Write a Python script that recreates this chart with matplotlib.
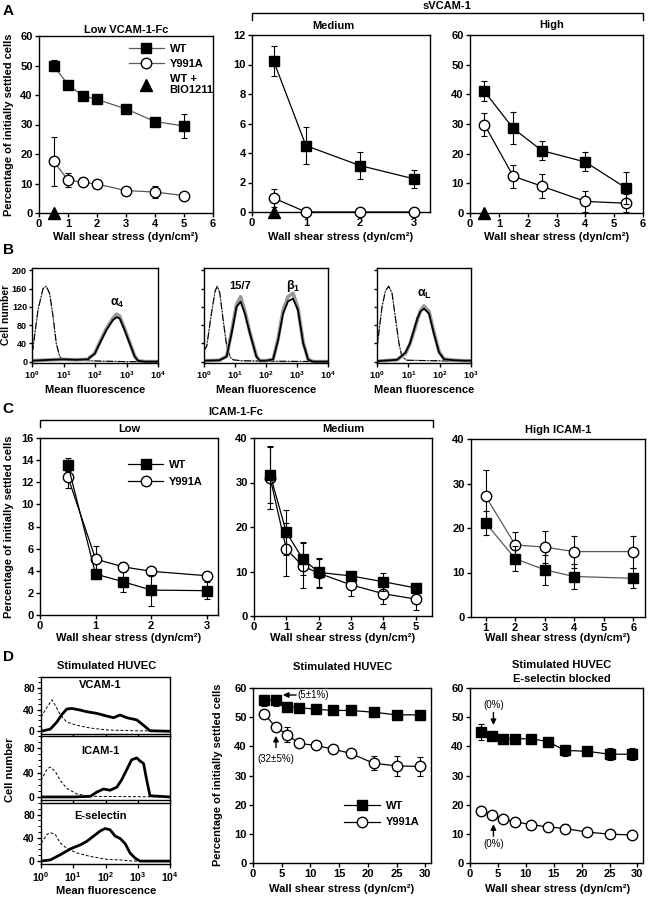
import numpy as np
import matplotlib
matplotlib.use("Agg")
import matplotlib.pyplot as plt
from matplotlib.lines import Line2D
from matplotlib.ticker import LogLocator, NullFormatter, MultipleLocator

W, H = 651, 900
plt.rcParams['font.family'] = ['Liberation Sans', 'DejaVu Sans']
plt.rcParams['font.weight'] = 'bold'
plt.rcParams['font.size'] = 8
plt.rcParams['axes.linewidth'] = 1.0
plt.rcParams['mathtext.fontset'] = 'custom'
plt.rcParams['mathtext.rm'] = 'Liberation Sans:bold'
plt.rcParams['mathtext.it'] = 'Liberation Sans:bold'

# ---- A: VCAM-1 ----
aL_x = [0.5, 1.0, 1.5, 2.0, 3.0, 4.0, 5.0]
aL_wt = [50.0, 43.5, 39.8, 38.5, 35.3, 31.0, 29.5]
aL_wt_err = [1.7, 0.8, 0.8, 0.8, 0.8, 0.8, 4.2]
aL_mut = [17.5, 11.2, 10.4, 9.8, 7.6, 7.1, 5.9]
aL_mut_err = [8.3, 2.4, 1.2, 0.8, 0.6, 2.0, 0.6]

aM_x = [0.4, 1, 2, 3]
aM_wt = [10.25, 4.5, 3.15, 2.25]
aM_wt_err = [1.0, 1.25, 0.9, 0.6]
aM_mut = [0.95, 0, 0, 0]
aM_mut_err = [0.6, 0, 0, 0]

aH_x = [0.5, 1.5, 2.5, 4.0, 5.4]
aH_wt = [41.0, 28.5, 21.0, 17.2, 8.5]
aH_wt_err = [3.4, 5.4, 3.2, 3.2, 5.3]
aH_mut = [29.8, 12.4, 9.0, 3.9, 3.3]
aH_mut_err = [4.0, 3.9, 4.1, 3.4, 3.0]

bio_x = [0.5, 0.4, 0.5]   # WT + BIO1211 point, one per A panel
bio_y = [0, 0, 0]

# ---- B: flow cytometry (log10 fluorescence, counts) ----
b1_ctrl_lx = [0.0, 0.03, 0.19, 0.35, 0.455, 0.56, 0.67, 0.77, 0.88, 0.98, 1.2, 1.5, 1.8, 2.2, 3.0, 4.0]
b1_ctrl = [20, 29, 113, 160, 165, 149, 98, 40, 11, 5, 4, 4, 2, 1, 0, 0]
b1_lx = [0.0, 0.3, 0.6, 1.0, 1.4, 1.78, 1.83, 1.99, 2.15, 2.36, 2.57, 2.68, 2.78, 2.94, 3.10, 3.26, 3.37, 3.6, 4.0]
b1_wt = [2, 3, 4, 5, 4, 5, 9, 17, 40, 69, 91, 97, 95, 69, 40, 11, 1.5, 0, 0]
b1_mut = [2, 3, 4, 5, 4, 5, 9, 18, 42, 72, 95, 104, 100, 72, 42, 12, 2, 0, 0]

b2_ctrl_lx = [0.0, 0.086, 0.25, 0.36, 0.43, 0.51, 0.62, 0.73, 0.84, 0.94, 1.2, 2.0, 4.0]
b2_ctrl = [25, 33, 110, 155, 165, 150, 90, 35, 10, 4, 2, 1, 0]
b2_lx = [0.0, 0.5, 0.73, 0.89, 1.05, 1.18, 1.32, 1.48, 1.69, 1.80, 2.0, 2.23, 2.39, 2.55, 2.71, 2.87, 3.03, 3.20, 3.36, 3.52, 4.0]
b2_wt = [2, 3, 11, 62, 120, 131, 105, 62, 11, 2, 2, 5, 47, 105, 132, 138, 113, 40, 4, 0, 0]
b2_mut = [2, 3, 12, 65, 125, 142, 110, 64, 12, 2, 2, 5, 50, 112, 142, 150, 118, 42, 5, 0, 0]

b3_ctrl_lx = [0.0, 0.03, 0.16, 0.27, 0.375, 0.48, 0.59, 0.70, 0.80, 0.96, 1.82, 2.9, 3.0]
b3_ctrl = [30, 47, 120, 155, 165, 150, 95, 40, 10, 3, 2, 1, 1]
b3_lx = [0.0, 0.21, 0.64, 0.91, 1.05, 1.18, 1.29, 1.39, 1.5, 1.66, 1.82, 1.98, 2.14, 2.46, 2.79, 3.0]
b3_wt = [1, 2, 4, 20, 40, 70, 95, 110, 116, 105, 60, 20, 5, 3, 2, 2]
b3_mut = [1, 2, 4, 18, 38, 66, 92, 112, 122, 110, 64, 22, 6, 3, 2, 2]

# ---- C: ICAM-1 ----
cL_x = [0.5, 1, 1.5, 2, 3]
cL_wt = [13.6, 3.7, 3.0, 2.25, 2.2]
cL_wt_err = [0.6, 0.3, 0.9, 1.4, 0.75]
cL_mut = [12.5, 5.05, 4.35, 3.95, 3.55]
cL_mut_err = [1.0, 1.2, 0.4, 0.3, 0.3]

cM_x = [0.5, 1, 1.5, 2, 3, 4, 5]
cM_wt = [31.7, 18.8, 12.9, 9.8, 9.0, 7.7, 6.3]
cM_wt_err = [6.4, 5.0, 3.7, 3.2, 1.0, 2.0, 0.6]
cM_mut = [31.0, 15.0, 11.3, 9.6, 7.0, 5.0, 3.8]
cM_mut_err = [7.0, 6.0, 5.1, 3.3, 2.5, 2.4, 2.5]

cH_x = [1, 2, 3, 4, 6]
cH_wt = [21.1, 13.1, 10.6, 9.1, 8.7]
cH_wt_err = [2.7, 2.8, 3.3, 2.8, 2.2]
cH_mut = [27.1, 16.2, 15.7, 14.7, 14.7]
cH_mut_err = [5.9, 2.9, 3.6, 3.6, 3.6]

# ---- D: HUVEC ----
dv_ctrl_lx = [0.0, 0.19, 0.34, 0.44, 0.6, 0.8, 1.11, 1.53, 2.04, 2.87, 4.0]
dv_ctrl = [26, 45, 58, 48, 30, 17, 11, 6, 2.5, 1, 0]
dv_lx = [0.0, 0.29, 0.49, 0.65, 0.80, 0.96, 1.22, 1.42, 1.73, 2.04, 2.25, 2.45, 2.66, 2.97, 3.18, 3.38, 4.0]
dv = [0, 4, 17, 31, 41, 42, 39, 36, 33, 28, 25, 30, 25, 21, 11, 1, 0]

di_ctrl_lx = [0.0, 0.19, 0.29, 0.44, 0.6, 0.8, 1.11, 1.53, 4.0]
di_ctrl = [27, 46, 49, 42, 27, 14, 5, 1, 0]
di_lx = [0.0, 1.0, 1.53, 1.73, 1.94, 2.14, 2.35, 2.5, 2.66, 2.81, 2.97, 3.07, 3.18, 3.28, 3.38, 4.0]
di = [0, 0, 1, 8, 13, 11, 16, 28, 45, 61, 64, 59, 55, 27, 2, 0]

de_ctrl_lx = [0.0, 0.19, 0.29, 0.44, 0.6, 0.8, 1.11, 1.53, 2.04, 2.45, 2.87, 4.0]
de_ctrl = [31, 46, 49, 46, 31, 22, 14, 8, 3, 2, 0, 0]
de_lx = [0.0, 0.29, 0.6, 0.91, 1.22, 1.42, 1.63, 1.84, 1.99, 2.14, 2.30, 2.45, 2.61, 2.76, 2.92, 3.07, 4.0]
de = [0, 2, 11, 21, 28, 34, 43, 52, 56, 54, 43, 39, 30, 14, 5, 0, 0]

d_x = [2, 4, 6, 8, 11, 14, 17, 21, 25, 29]
dM_wt = [55.8, 55.8, 53.5, 53.3, 52.7, 52.3, 52.3, 51.7, 50.8, 50.8]
dM_wt_err = [1.8, 1.8, 1.2, 0.8, 0.8, 0.5, 0.5, 0.8, 0.8, 0.5]
dM_mut = [51.0, 46.5, 44.0, 41.0, 40.3, 39.0, 37.6, 34.2, 33.3, 33.1]
dM_mut_err = [0.8, 0.8, 2.5, 0.8, 0.8, 0.8, 0.8, 2.4, 3.5, 3.4]

dB_wt = [44.9, 43.5, 42.6, 42.6, 42.6, 41.6, 38.6, 38.3, 37.3, 37.3]
dB_wt_err = [2.7, 0.8, 0.8, 0.8, 0.8, 0.8, 1.8, 0.8, 2.0, 2.0]
dB_mut = [18.0, 16.4, 15.0, 14.2, 13.1, 12.4, 11.8, 10.6, 9.9, 9.6]
dB_mut_err = [0.5, 0.5, 0.5, 0.5, 0.5, 0.5, 1.6, 0.5, 0.5, 0.5]

fig = plt.figure(figsize=(W / 100, H / 100), dpi=100)

def px_axes(l, t, r, b):
    return fig.add_axes([l / W, 1 - b / H, (r - l) / W, (b - t) / H])

def ftext(x, y, s, **kw):
    kw.setdefault('ha', 'center')
    kw.setdefault('va', 'center')
    fig.text(x / W, 1 - y / H, s, **kw)

def bracket(x0, x1, y, drop=7):
    xs = np.array([x0, x0, x1, x1]) / W
    ys = 1 - np.array([y + drop, y, y, y + drop]) / H
    fig.add_artist(Line2D(xs, ys, color='k', lw=1))

def style(ax, fs=8):
    ax.tick_params(direction='out', length=3, width=1, labelsize=fs, pad=1.5)

def series(ax, x, y, err, filled, lc='k'):
    ax.errorbar(x, y, yerr=err, fmt='s-' if filled else 'o-', color=lc,
                mfc='k' if filled else 'white', mec='k', ms=7.5, lw=0.9,
                ecolor='k', elinewidth=0.8, capsize=2.5, capthick=0.8,
                clip_on=False, zorder=4 if filled else 3)

XL = 'Wall shear stress (dyn/cm²)'
YL = 'Percentage of initially settled cells'

# ---------- A ----------
ax = px_axes(39, 36, 213, 213)
series(ax, aL_x, aL_mut, aL_mut_err, False, '0.35')
series(ax, aL_x, aL_wt, aL_wt_err, True, '0.35')
ax.plot(bio_x[0], bio_y[0], '^', color='k', ms=9, clip_on=False, zorder=5)
ax.set_xlim(0, 6); ax.set_ylim(0, 60)
ax.set_xticks(range(7)); ax.set_yticks(range(0, 61, 10))
style(ax)
h_wt = Line2D([], [], color='0.35', lw=0.9, marker='s', ms=7.5, mfc='k', mec='k')
h_mu = Line2D([], [], color='0.35', lw=0.9, marker='o', ms=7.5, mfc='w', mec='k')
h_bi = Line2D([], [], ls='none', marker='^', ms=9, color='k')
ax.legend([h_wt, h_mu, h_bi], ['WT', 'Y991A', 'WT +\nBIO1211'], frameon=False,
          loc='upper left', bbox_to_anchor=(0.47, 1.0), handlelength=3.2,
          labelspacing=0.45, borderpad=0.2, handletextpad=0.5, fontsize=8)

ax = px_axes(252, 35, 430, 212)
series(ax, aM_x, aM_mut, aM_mut_err, False)
series(ax, aM_x, aM_wt, aM_wt_err, True)
ax.plot(bio_x[1], bio_y[1], '^', color='k', ms=9, clip_on=False, zorder=5)
ax.set_xlim(0, 3.3); ax.set_ylim(0, 12)
ax.set_xticks(range(4)); ax.set_yticks(range(0, 13, 2))
style(ax)

ax = px_axes(470, 35, 643, 213)
series(ax, aH_x, aH_mut, aH_mut_err, False)
series(ax, aH_x, aH_wt, aH_wt_err, True)
ax.plot(bio_x[2], bio_y[2], '^', color='k', ms=9, clip_on=False, zorder=5)
ax.set_xlim(0, 6); ax.set_ylim(0, 60)
ax.set_xticks(range(7)); ax.set_yticks(range(0, 61, 10))
style(ax)

ftext(8, 11, 'A', fontsize=11)
ftext(126, 30, 'Low VCAM-1-Fc')
bracket(252, 643, 13)
ftext(447, 6, 'sVCAM-1')
ftext(333, 26, 'Medium')
ftext(552, 25, 'High')
ftext(9, 125, YL, rotation=90)
for xc in (126, 341, 557):
    ftext(xc, 237, XL)

# ---------- B ----------
def hist_b(rect, ctrl_lx, ctrl, curves, xmax, ylabels):
    ax = px_axes(*rect)
    ax.plot(np.power(10.0, ctrl_lx), ctrl, color='0.6', lw=0.8)
    ax.plot(np.power(10.0, ctrl_lx), ctrl, color='k', lw=0.8, ls='-.')
    for lx, wt, mu in curves:
        ax.plot(np.power(10.0, lx), mu, color='0.6', lw=2.6)
        ax.plot(np.power(10.0, lx), wt, color='k', lw=1.3)
    ax.set_xscale('log')
    ax.set_xlim(1, xmax); ax.set_ylim(-3, 205)
    ax.set_xticks([10.0 ** k for k in range(int(np.log10(xmax)) + 1)])
    ax.xaxis.set_minor_locator(LogLocator(subs=[]))
    ax.set_yticks(range(0, 201, 40))
    if not ylabels:
        ax.set_yticklabels([])
    style(ax, 6.5)
    ax.tick_params(axis='y', length=2.5, pad=1)
    return ax

hist_b((32, 268, 158, 363), b1_ctrl_lx, b1_ctrl, [(b1_lx, b1_wt, b1_mut)], 1e4, True)
hist_b((204, 268, 328, 363), b2_ctrl_lx, b2_ctrl, [(b2_lx, b2_wt, b2_mut)], 1e4, False)
hist_b((377, 268, 471, 363), b3_ctrl_lx, b3_ctrl, [(b3_lx, b3_wt, b3_mut)], 1e3, False)
ftext(8, 250, 'B', fontsize=11)
ftext(117, 303, r'$\alpha_4$', fontsize=9)
ftext(240, 286, '15/7', fontsize=8)
ftext(293, 286, r'$\beta_1$', fontsize=9)
ftext(424, 294, r'$\alpha_L$', fontsize=9)
ftext(6, 315, 'Cell number', rotation=90, fontsize=7.5)
for xc in (95, 266, 424):
    ftext(xc, 390, 'Mean fluorescence')

# ---------- C ----------
ax = px_axes(40, 438, 218, 615)
series(ax, cL_x, cL_mut, cL_mut_err, False)
series(ax, cL_x, cL_wt, cL_wt_err, True)
ax.set_xlim(0, 3.2); ax.set_ylim(0, 16)
ax.set_xticks(range(4)); ax.set_yticks(range(0, 17, 2))
style(ax)
h_wt = Line2D([], [], color='k', lw=0.9, marker='s', ms=7.5, mfc='k', mec='k')
h_mu = Line2D([], [], color='k', lw=0.9, marker='o', ms=7.5, mfc='w', mec='k')
ax.legend([h_wt, h_mu], ['WT', 'Y991A'], frameon=False, loc='upper left',
          bbox_to_anchor=(0.45, 0.92), handlelength=3.2, labelspacing=0.6,
          borderpad=0.2, handletextpad=0.5, fontsize=8)

ax = px_axes(254, 438, 432, 616)
series(ax, cM_x, cM_mut, cM_mut_err, False)
series(ax, cM_x, cM_wt, cM_wt_err, True)
ax.set_xlim(0, 5.5); ax.set_ylim(0, 40)
ax.set_xticks(range(6)); ax.set_yticks(range(0, 41, 10))
style(ax)

ax = px_axes(471, 439, 645, 617)
series(ax, cH_x, cH_mut, cH_mut_err, False, '0.35')
series(ax, cH_x, cH_wt, cH_wt_err, True, '0.35')
ax.set_xlim(0.5, 6.4); ax.set_ylim(0, 40)
ax.set_xticks(range(1, 7)); ax.set_yticks(range(0, 41, 10))
style(ax)

ftext(8, 409, 'C', fontsize=11)
bracket(40, 433, 420)
ftext(236, 412, 'ICAM-1-Fc')
ftext(129, 429, 'Low')
ftext(343, 429, 'Medium')
ftext(558, 430, 'High ICAM-1')
ftext(9, 527, YL, rotation=90)
for xc in (129, 343, 558):
    ftext(xc, 638, XL)

# ---------- D ----------
d_hist = [((41, 677, 170, 734), dv_ctrl_lx, dv_ctrl, dv_lx, dv, 'VCAM-1', 0.86),
          ((41, 736, 170, 800), di_ctrl_lx, di_ctrl, di_lx, di, 'ICAM-1', 0.76),
          ((41, 803, 170, 864), de_ctrl_lx, de_ctrl, de_lx, de, 'E-selectin', 0.78)]
for i, (rect, clx, cy, lx, y, name, ty) in enumerate(d_hist):
    ax = px_axes(*rect)
    ax.plot(np.power(10.0, clx), cy, color='k', lw=0.7, ls=(0, (3, 2)))
    ax.plot(np.power(10.0, lx), y, color='k', lw=2.0)
    ax.set_xscale('log')
    ax.set_xlim(1, 1e4); ax.set_ylim(-5, 100)
    ax.set_xticks([1, 10, 100, 1000, 10000])
    ax.set_yticks([0, 40, 80])
    ax.yaxis.set_minor_locator(MultipleLocator(10))
    ax.xaxis.set_minor_locator(LogLocator(subs=np.arange(2, 10)))
    ax.xaxis.set_minor_formatter(NullFormatter())
    style(ax, 7.5)
    ax.tick_params(which='minor', direction='out', length=2, width=0.7)
    if i < 2:
        ax.set_xticklabels([])
    ax.text(0.46, ty, name, transform=ax.transAxes, ha='center', va='center', fontsize=8)
ftext(8, 657, 'D', fontsize=11)
ftext(107, 666, 'Stimulated HUVEC')
ftext(10, 770, 'Cell number', rotation=90)
ftext(106, 891, 'Mean fluorescence')

ax = px_axes(253, 688, 431, 863)
series(ax, d_x, dM_mut, dM_mut_err, False)
series(ax, d_x, dM_wt, dM_wt_err, True)
ax.set_xlim(0, 31); ax.set_ylim(0, 60)
ax.set_xticks(range(0, 31, 5)); ax.set_yticks(range(0, 61, 10))
style(ax)
ax.legend([h_wt, h_mu], ['WT', 'Y991A'], frameon=False, loc='upper left',
          bbox_to_anchor=(0.47, 0.40), handlelength=3.2, labelspacing=0.6,
          borderpad=0.2, handletextpad=0.5, fontsize=8)
arw = dict(arrowstyle='-|>', color='k', lw=1, mutation_scale=8, shrinkA=0, shrinkB=0)
ax.annotate('', xy=(5.2, 57.6), xytext=(7.5, 57.6), arrowprops=arw)
ax.text(7.7, 57.6, '(5±1%)', ha='left', va='center', fontsize=7, fontweight='normal')
ax.annotate('', xy=(4, 43.6), xytext=(4, 39.6), arrowprops=arw)
ax.text(3.9, 35.6, '(32±5%)', ha='center', va='center', fontsize=7, fontweight='normal')
ftext(343, 667, 'Stimulated HUVEC')
ftext(218, 775, YL, rotation=90)
ftext(342, 889, XL)

ax = px_axes(470, 688, 643, 863)
series(ax, d_x, dB_mut, dB_mut_err, False)
series(ax, d_x, dB_wt, dB_wt_err, True)
ax.set_xlim(0, 31); ax.set_ylim(0, 60)
ax.set_xticks(range(0, 31, 5)); ax.set_yticks(range(0, 61, 10))
style(ax)
ax.annotate('', xy=(4.2, 47.3), xytext=(4.2, 51.6), arrowprops=arw)
ax.text(4.2, 54.0, '(0%)', ha='center', va='center', fontsize=7, fontweight='normal')
ax.annotate('', xy=(4.2, 13.3), xytext=(4.2, 9.2), arrowprops=arw)
ax.text(4.2, 6.6, '(0%)', ha='center', va='center', fontsize=7, fontweight='normal')
ftext(562, 665, 'Stimulated HUVEC')
ftext(562, 679, 'E-selectin blocked')
ftext(558, 889, XL)

fig.savefig('out.png', dpi=100)
